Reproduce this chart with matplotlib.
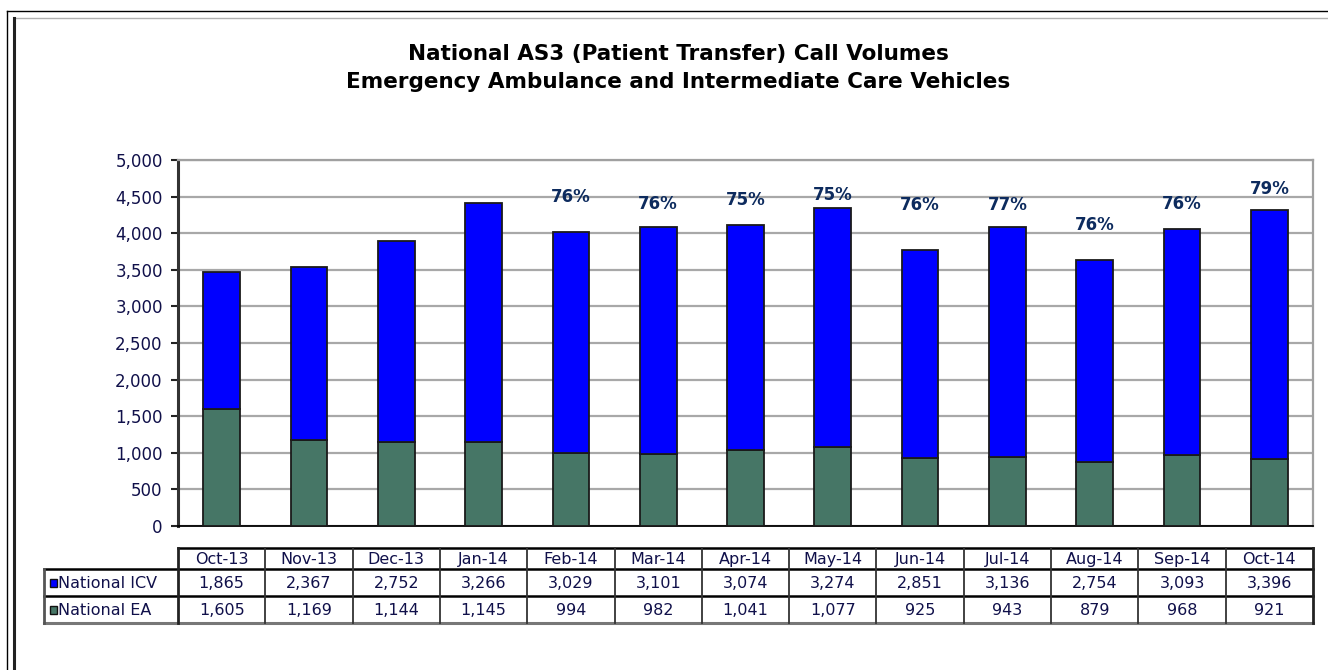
import matplotlib
matplotlib.use("Agg")
import matplotlib.pyplot as plt
from matplotlib.lines import Line2D
from matplotlib.patches import Rectangle
import matplotlib.transforms as mtransforms

plt.rcParams['font.family'] = ['DejaVu Sans']

months = ["Oct-13", "Nov-13", "Dec-13", "Jan-14", "Feb-14", "Mar-14", "Apr-14",
          "May-14", "Jun-14", "Jul-14", "Aug-14", "Sep-14", "Oct-14"]
icv = [1865, 2367, 2752, 3266, 3029, 3101, 3074, 3274, 2851, 3136, 2754, 3093, 3396]
ea = [1605, 1169, 1144, 1145, 994, 982, 1041, 1077, 925, 943, 879, 968, 921]
# percentage labels (shown from Feb-14 onwards) and the height at which they sit
pct_labels = [None, None, None, None, "76%", "76%", "75%", "75%", "76%", "77%", "76%", "76%", "79%"]
pct_label_y = [None, None, None, None, 4490, 4400, 4450, 4520, 4385, 4385, 4110, 4400, 4600]
series_names = ["National ICV", "National EA"]
yticks = [0, 500, 1000, 1500, 2000, 2500, 3000, 3500, 4000, 4500, 5000]

BLUE = "#0000FF"
GREEN = "#467666"
TXT = "#10104a"

W, H = 1328, 670
fig = plt.figure(figsize=(W / 100, H / 100), dpi=100)

# outer frame
def fl(x0, y0, x1, y1, color, lw):
    fig.add_artist(Line2D([x0 / W, x1 / W], [1 - y0 / H, 1 - y1 / H], color=color, lw=lw,
                          transform=fig.transFigure))
fl(7, 11, 1328, 11, "black", 1.0)
fl(7, 11, 7, 670, "black", 1.0)
fl(14, 18, 1328, 18, "#b0b0b0", 1.0)
fl(14, 18, 14, 670, "#222222", 2.2)

left, right, top, bottom = 178, 1313, 160, 526
ax = fig.add_axes([left / W, 1 - bottom / H, (right - left) / W, (bottom - top) / H])

x = list(range(len(months)))
bw = 0.42
ax.bar(x, ea, width=bw, color=GREEN, edgecolor="#1a1a1a", linewidth=1.3, zorder=3)
ax.bar(x, icv, bottom=ea, width=bw, color=BLUE, edgecolor="#1a1a1a", linewidth=1.3, zorder=3)

for i, (lab, ly) in enumerate(zip(pct_labels, pct_label_y)):
    if lab is not None:
        ax.text(i, ly, lab, ha="center", va="center", fontsize=12, fontweight="bold",
                color="#0d2b5e", zorder=4)

ax.set_xlim(-0.5, len(months) - 0.5)
ax.set_ylim(0, 5000)
ax.set_yticks(yticks)
ax.set_yticklabels([f"{v:,}" for v in yticks], fontsize=12, color=TXT)
ax.set_xticks([])
ax.yaxis.grid(True, color="#a8a8a8", lw=1.6, zorder=0)
ax.tick_params(axis="y", length=5, width=1.5, color="#222222", pad=6)
ax.spines["left"].set_color("#333333")
ax.spines["left"].set_linewidth(2.2)
ax.spines["bottom"].set_color("black")
ax.spines["bottom"].set_linewidth(1.3)
ax.spines["top"].set_color("#a0a0a0")
ax.spines["top"].set_linewidth(1.6)
ax.spines["right"].set_color("#a0a0a0")
ax.spines["right"].set_linewidth(1.6)

fig.text(678 / W, 1 - 54 / H, "National AS3 (Patient Transfer) Call Volumes",
         ha="center", va="center", fontsize=15.5, fontweight="bold", color="black")
fig.text(678 / W, 1 - 82 / H, "Emergency Ambulance and Intermediate Care Vehicles",
         ha="center", va="center", fontsize=15.5, fontweight="bold", color="black")

# data table below the axes (x in data coords, y in figure pixels)
trans = mtransforms.blended_transform_factory(ax.transData, fig.transFigure)
def yf(py):
    return 1 - py / H

cw = (right - left) / len(months)
x_left = -0.5 - (left - 44) / cw
x_right = len(months) - 0.5
r0, r1, r2, r3 = 548, 569, 596, 623

def tl(xs, ys, color="black", lw=1.8):
    ax.add_line(Line2D(xs, [yf(v) for v in ys], color=color, lw=lw, transform=trans, clip_on=False))

# horizontal lines
tl([-0.5, x_right], [r0, r0])
tl([x_left, x_right], [r1, r1])
tl([x_left, x_right], [r2, r2])
tl([x_left, x_right], [r3, r3], color="#777777", lw=2.2)
# vertical lines
tl([x_left, x_left], [r1, r3], color="#555555", lw=2.0)
for k in range(len(months) + 1):
    xv = k - 0.5
    tl([xv, xv], [r0, r3], color="#222222" if k in (0, len(months)) else "#333333",
       lw=2.0 if k in (0, len(months)) else 1.3)

TFS = 11.5
for i, m in enumerate(months):
    ax.text(i, yf((r0 + r1) / 2 + 1), m, transform=trans, ha="center", va="center",
            fontsize=TFS, color=TXT, clip_on=False)
    ax.text(i, yf((r1 + r2) / 2 + 1), f"{icv[i]:,}", transform=trans, ha="center", va="center",
            fontsize=TFS, color=TXT, clip_on=False)
    ax.text(i, yf((r2 + r3) / 2 + 1), f"{ea[i]:,}", transform=trans, ha="center", va="center",
            fontsize=TFS, color=TXT, clip_on=False)

for (ya, yb), name, col in zip([(r1, r2), (r2, r3)], series_names, [BLUE, GREEN]):
    yc = (ya + yb) / 2
    fig.add_artist(Rectangle((50 / W, yf(yc + 4)), 7 / W, 8 / H, facecolor=col,
                             edgecolor="#111111", lw=1.0, transform=fig.transFigure))
    fig.text(58 / W, yf(yc + 1), name, ha="left", va="center", fontsize=TFS, color=TXT)

fig.savefig("out.png", dpi=100, facecolor="white")
